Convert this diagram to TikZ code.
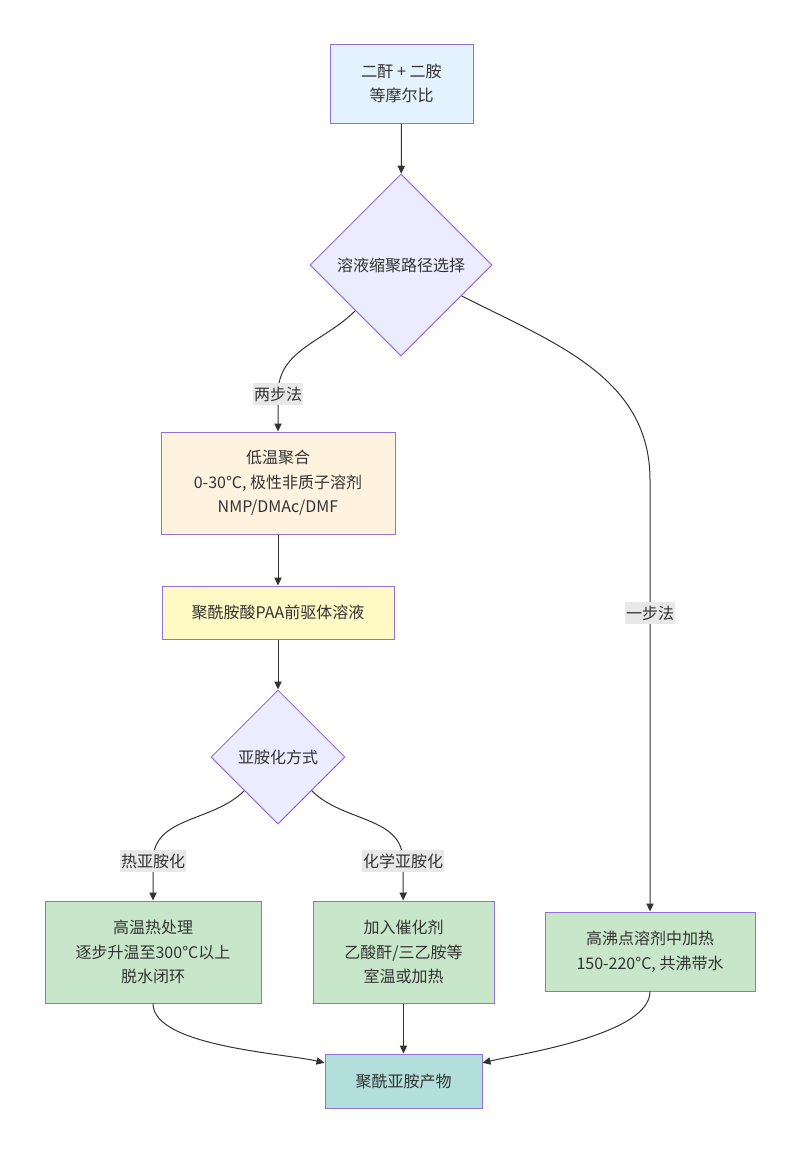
\documentclass[tikz,border=0pt]{standalone}
\usepackage{fontspec}
\setmainfont{Noto Sans CJK SC}
\usetikzlibrary{arrows.meta,shapes.geometric}
\definecolor{rand}{HTML}{9370DB}
\definecolor{tinte}{HTML}{333333}
\definecolor{blau}{HTML}{E3F2FD}
\definecolor{lila}{HTML}{ECECFF}
\definecolor{orange}{HTML}{FFF3E0}
\definecolor{gelb}{HTML}{FFF9C4}
\definecolor{gruen}{HTML}{C8E6C9}
\definecolor{tuerkis}{HTML}{B2DFDB}
\definecolor{grau}{HTML}{E8E8E8}
\begin{document}
\begin{tikzpicture}[x=0.75pt,y=-0.75pt,>={Triangle[length=6pt,width=5.5pt]},
  font=\fontsize{12}{18.4}\selectfont,text=tinte,
  kasten/.style={draw=rand,line width=0.75pt,align=center,inner sep=0pt},
  raute/.style={draw=rand,line width=0.75pt,fill=lila,diamond,aspect=1,inner sep=0pt},
  pfeil/.style={->,draw=tinte,line width=0.75pt},
  etikett/.style={fill=grau,inner xsep=1pt,inner ysep=3pt,text=tinte}]
\useasboundingbox (0,0) rectangle (800,1153);
\node[kasten,fill=blau,minimum width=107.25pt,minimum height=59.25pt] (start) at (401.5,83.5) {二酐 + 二胺\\等摩尔比};
\node[raute,minimum size=136.5pt] (weg) at (401,265) {溶液缩聚路径选择};
\node[kasten,fill=orange,minimum width=175.5pt,minimum height=76.5pt] (zwei) at (278,483) {低温聚合\\0-30°C, 极性非质子溶剂\\NMP/DMAc/DMF};
\node[kasten,fill=gelb,minimum width=174pt,minimum height=39.75pt] (paa) at (278,612.5) {聚酰胺酸PAA前驱体溶液};
\node[raute,minimum size=100.5pt] (imid) at (278,757) {亚胺化方式};
\node[kasten,fill=gruen,minimum width=162pt,minimum height=76.5pt] (therm) at (153,952) {高温热处理\\逐步升温至300°C以上\\脱水闭环};
\node[kasten,fill=gruen,minimum width=135.75pt,minimum height=76.5pt] (chem) at (403.5,952) {加入催化剂\\乙酸酐/三乙胺等\\室温或加热};
\node[kasten,fill=gruen,minimum width=157.5pt,minimum height=59.25pt] (eins) at (650,951.5) {高沸点溶剂中加热\\150-220°C, 共沸带水};
\node[kasten,fill=tuerkis,minimum width=117.75pt,minimum height=40.5pt] (pi) at (403.5,1081) {聚酰亚胺产物};
\coordinate (l2) at (278,394);
\coordinate (k1) at (650,480);
\coordinate (l1) at (650,613);
\coordinate (lt) at (153,861);
\coordinate (lc) at (403,861);
\draw[pfeil] (start) -- (weg);
\draw[pfeil] (weg.south west) to[out=-135,in=90] (l2) node[etikett]{两步法} -- (zwei);
\draw[pfeil] (weg.-27) to[out=-27,in=90] (k1) -- (l1) node[etikett]{一步法} -- (eins);
\draw[pfeil] (zwei) -- (paa);
\draw[pfeil] (paa) -- (imid);
\draw[pfeil] (imid.south west) to[out=-135,in=90] (lt) node[etikett]{热亚胺化} -- (therm);
\draw[pfeil] (imid.south east) to[out=-45,in=90] (lc) node[etikett]{化学亚胺化} -- (chem);
\draw[pfeil] (therm.south) to[out=-90,in=167,looseness=0.6] (pi.167);
\draw[pfeil] (chem) -- (pi);
\draw[pfeil] (eins.south) to[out=-90,in=13,looseness=0.6] (pi.13);
\end{tikzpicture}
\end{document}
